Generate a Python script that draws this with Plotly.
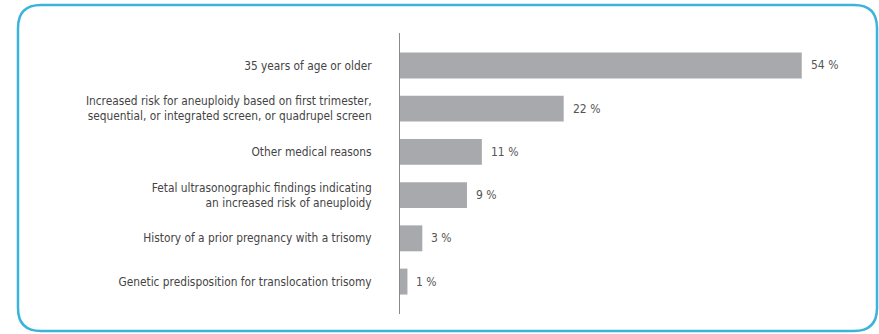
import plotly.graph_objects as go

categories = [
    "35 years of age or older",
    "Increased risk for aneuploidy based on first trimester,<br>sequential, or integrated screen, or quadrupel screen",
    "Other medical reasons",
    "Fetal ultrasonographic findings indicating<br>an increased risk of aneuploidy",
    "History of a prior pregnancy with a trisomy",
    "Genetic predisposition for translocation trisomy",
]
values = [54, 22, 11, 9, 3, 1]
value_labels = ["54 %", "22 %", "11 %", "9 %", "3 %", "1 %"]

W, H = 879, 334
L, R, T, B = 400, 39, 33, 20
pw, ph = W - L - R, H - T - B
FONT = "Liberation Sans Narrow, DejaVu Sans Condensed, Arial Narrow, sans-serif"

fig = go.Figure(go.Bar(
    x=values, y=categories, orientation="h",
    marker=dict(color="#a7a9ac", line=dict(width=0)),
    width=0.6, hoverinfo="skip",
))

for c, v, t in zip(categories, values, value_labels):
    fig.add_annotation(x=v, y=c, text=t, showarrow=False, xanchor="left",
                       xshift=7, font=dict(family=FONT, size=12, color="#555"))

def px(x):
    return (x - L) / pw

def py(y):
    return 1 - (y - T) / ph

x0, x1, y0, y1, r = 18, 877, 5, 331, 23
path = (f"M {px(x0+r)},{py(y0)} L {px(x1-r)},{py(y0)} "
        f"Q {px(x1)},{py(y0)} {px(x1)},{py(y0+r)} "
        f"L {px(x1)},{py(y1-r)} Q {px(x1)},{py(y1)} {px(x1-r)},{py(y1)} "
        f"L {px(x0+r)},{py(y1)} Q {px(x0)},{py(y1)} {px(x0)},{py(y1-r)} "
        f"L {px(x0)},{py(y0+r)} Q {px(x0)},{py(y0)} {px(x0+r)},{py(y0)} Z")
fig.add_shape(type="path", xref="paper", yref="paper", path=path,
              line=dict(color="#3ab4da", width=2.5), layer="below")

fig.update_layout(
    width=W, height=H,
    margin=dict(l=L, r=R, t=T, b=B, pad=0),
    paper_bgcolor="white", plot_bgcolor="white",
    showlegend=False,
    font=dict(family=FONT, size=12, color="#444"),
    xaxis=dict(range=[0, pw / 7.44], visible=False, fixedrange=True),
    yaxis=dict(categoryorder="array", categoryarray=categories,
               range=[5.75, -0.75], showline=True, linecolor="#8a8a8a",
               linewidth=1, ticks="", showgrid=False, zeroline=False,
               ticklabelstandoff=25, tickfont=dict(family=FONT, size=11.8, color="#444")),
)

fig.write_html("out.html")
